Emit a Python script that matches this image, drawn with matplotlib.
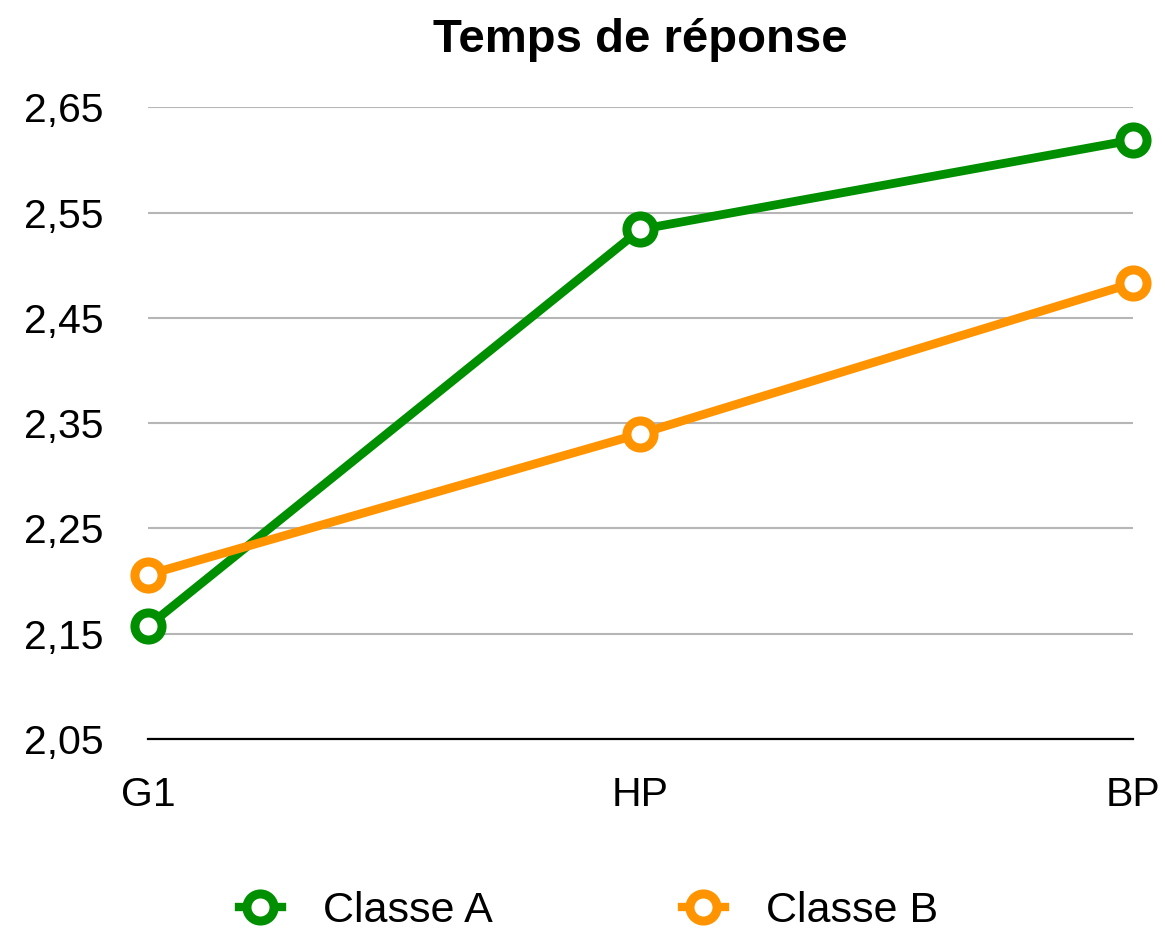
import matplotlib
matplotlib.use("Agg")
import matplotlib.pyplot as plt
from matplotlib.ticker import FuncFormatter

plt.rcParams['font.family'] = ['Liberation Sans', 'DejaVu Sans']

categories = ["G1", "HP", "BP"]
classe_a = [2.157, 2.534, 2.619]
classe_b = [2.206, 2.340, 2.483]
yticks = [2.05, 2.15, 2.25, 2.35, 2.45, 2.55, 2.65]

green = "#008f00"
orange = "#ff9300"

fig = plt.figure(figsize=(11.65, 9.33), dpi=100)
ax = fig.add_axes([0.127, 0.208, 0.9725 - 0.127, 0.885 - 0.208])

x = range(len(categories))
for vals, col, lab in [(classe_a, green, "Classe A"), (classe_b, orange, "Classe B")]:
    ax.plot(x, vals, color=col, lw=6.3, marker="o", ms=19.5, mfc="white",
            mec=col, mew=6.5, label=lab, zorder=3, clip_on=False)

ax.set_xlim(0, 2)
ax.set_ylim(2.05, 2.65)
ax.set_xticks(list(x))
ax.set_xticklabels(categories)
ax.set_yticks(yticks)
ax.yaxis.set_major_formatter(FuncFormatter(lambda v, p: f"{v:.2f}".replace(".", ",")))
ax.tick_params(axis="both", length=0, labelsize=29.5)
ax.tick_params(axis="y", pad=32)
ax.tick_params(axis="x", pad=27)
ax.grid(axis="y", color="#b6b6b6", lw=1.5)
ax.set_axisbelow(True)
for s in ["top", "right", "left"]:
    ax.spines[s].set_visible(False)
ax.spines["bottom"].set_linewidth(1.6)
ax.spines["bottom"].set_zorder(2)

ax.set_title("Temps de réponse", fontsize=34, fontweight="bold", pad=40)

leg = fig.legend(loc="center", bbox_to_anchor=(0.505, 0.024), ncol=2, frameon=False,
                 fontsize=31, handlelength=1.0, handletextpad=0.95, columnspacing=4.4,
                 borderpad=0.1)
for h in leg.legend_handles:
    h.set_linewidth(6)

fig.savefig("out.png", dpi=100)
